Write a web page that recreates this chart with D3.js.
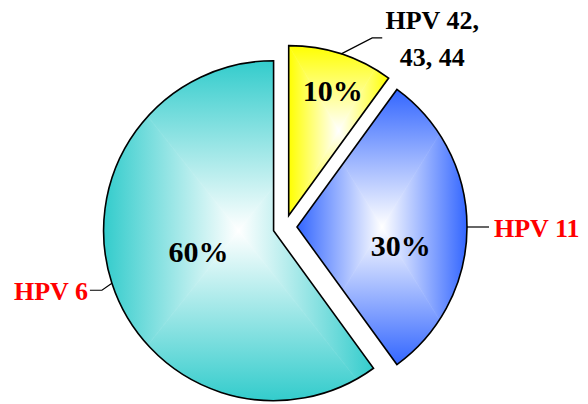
<!DOCTYPE html>
<html>
<head>
<meta charset="utf-8">
<script src="https://cdn.jsdelivr.net/npm/d3@7"></script>
<style>
  html, body { margin: 0; padding: 0; background: #ffffff; }
  svg { display: block; }
  text { font-family: "Liberation Serif", "Times New Roman", serif; font-weight: bold; }
</style>
</head>
<body>
<svg id="chart" width="588" height="404"></svg>
<script>
// HPV types found in genital warts (share of cases)
const categories = ["HPV 42, 43, 44", "HPV 11", "HPV 6"];
const shares = [10, 30, 60];
const nameLines = [["HPV 42,", "43, 44"], ["HPV 11"], ["HPV 6"]];
const sliceColors = ["#FFFF00", "#3366FF", "#33CCCC"];
const nameColors = ["#000000", "#FF0000", "#FF0000"];

const W = 588, H = 404;
const cx = 285, cy = 227;
const R = 170;
const explode = 12;

// label layout: percent label radius (fraction of R) and angular nudge (deg)
const pctRadius = [0.78, 0.62, 0.46];
const pctNudge = [1.4, 10.4, 2];
// leader line: elbow offset from arc point, then horizontal run
const leaderElbow = [[31, -16], [0, 0], [-10, 7]];
const leaderRun = [10, 22, -12];

const svg = d3.select("#chart");
const defs = svg.append("defs");

const pie = d3.pie().sort(null).value(d => d)(shares);
const arc = d3.arc().innerRadius(0).outerRadius(R);

const polar = (a, r) => [Math.sin(a) * r, -Math.cos(a) * r];

pie.forEach((p, i) => {
  const mid = (p.startAngle + p.endAngle) / 2;
  const [ox, oy] = polar(mid, explode);
  const g = svg.append("g").attr("transform", `translate(${cx + ox},${cy + oy})`);

  // bounding box of the slice (apex + arc samples)
  const pts = [[0, 0]];
  for (let k = 0; k <= 200; k++) {
    const a = p.startAngle + (p.endAngle - p.startAngle) * k / 200;
    pts.push(polar(a, R));
  }
  const x0 = d3.min(pts, q => q[0]), x1 = d3.max(pts, q => q[0]);
  const y0 = d3.min(pts, q => q[1]), y1 = d3.max(pts, q => q[1]);
  const mx = (x0 + x1) / 2, my = (y0 + y1) / 2;

  const clipId = "clip" + i;
  defs.append("clipPath").attr("id", clipId)
    .append("path").attr("d", arc(p));

  // rectangular "from centre" gradient: four triangles with linear ramps
  const quads = [
    { tri: [[mx, my], [x0, y0], [x1, y0]], from: [mx, my], to: [mx, y0] },
    { tri: [[mx, my], [x1, y0], [x1, y1]], from: [mx, my], to: [x1, my] },
    { tri: [[mx, my], [x1, y1], [x0, y1]], from: [mx, my], to: [mx, y1] },
    { tri: [[mx, my], [x0, y1], [x0, y0]], from: [mx, my], to: [x0, my] }
  ];
  const fillG = g.append("g").attr("clip-path", `url(#${clipId})`);
  quads.forEach((q, j) => {
    const gid = `grad${i}_${j}`;
    const lg = defs.append("linearGradient").attr("id", gid)
      .attr("gradientUnits", "userSpaceOnUse")
      .attr("x1", q.from[0]).attr("y1", q.from[1])
      .attr("x2", q.to[0]).attr("y2", q.to[1]);
    lg.append("stop").attr("offset", 0).attr("stop-color", "#ffffff");
    lg.append("stop").attr("offset", 1).attr("stop-color", sliceColors[i]);
    // slightly enlarged triangle to avoid hairline seams
    const c = q.tri[0];
    const tri = q.tri.map((v, k) => k === 0 ? v : [c[0] + (v[0] - c[0]) * 1.02, c[1] + (v[1] - c[1]) * 1.02]);
    fillG.append("path")
      .attr("d", d3.line()(tri) + "Z")
      .attr("fill", `url(#${gid})`)
      .attr("stroke", `url(#${gid})`)
      .attr("stroke-width", 0.6);
  });

  g.append("path")
    .attr("d", arc(p))
    .attr("fill", "none")
    .attr("stroke", "#000")
    .attr("stroke-width", 1.6)
    .attr("stroke-linejoin", "miter");

  // percent label
  const la = mid + pctNudge[i] * Math.PI / 180;
  const [lx, ly] = polar(la, R * pctRadius[i]);
  g.append("text")
    .attr("x", lx).attr("y", ly + 10)
    .attr("text-anchor", "middle")
    .attr("font-size", 30)
    .attr("fill", "#000")
    .text(shares[i] + "%");

  // leader line from the arc midpoint to the category label
  const [ax, ay] = polar(mid, R);
  const ex = ax + leaderElbow[i][0], ey = ay + leaderElbow[i][1];
  const hx = ex + leaderRun[i];
  g.append("path")
    .attr("d", d3.line()([[ax, ay], [ex, ey], [hx, ey]]))
    .attr("fill", "none")
    .attr("stroke", "#000")
    .attr("stroke-width", 1.2);

  // category label
  const gx = cx + ox + hx, gy = cy + oy + ey;
  const t = svg.append("text")
    .attr("font-size", 26)
    .attr("fill", nameColors[i]);
  if (nameLines[i].length > 1) {
    t.attr("text-anchor", "middle");
    nameLines[i].forEach((s, k) => {
      t.append("tspan").attr("x", gx + 50).attr("y", gy - 9 + k * 37).text(s);
    });
  } else {
    const right = leaderRun[i] > 0;
    t.attr("text-anchor", right ? "start" : "end")
      .attr("x", right ? gx + 5 : gx - 2)
      .attr("y", gy + 10)
      .text(nameLines[i][0]);
  }
});
</script>
</body>
</html>
